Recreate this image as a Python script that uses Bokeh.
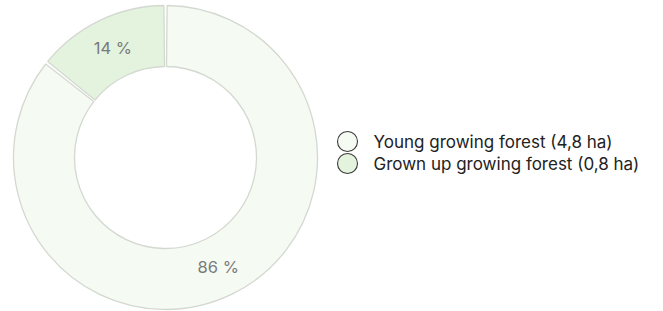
import math
from bokeh.plotting import figure
from bokeh.models import Range1d, ColumnDataSource
from bokeh.core.properties import value
from bokeh.embed import file_html
from bokeh.resources import INLINE

categories = ["Young growing forest", "Grown up growing forest"]
areas_ha = [4.8, 0.8]
colors = ["#f5faf2", "#e3f3de"]
area_labels = ["4,8 ha", "0,8 ha"]

W, H = 655, 311
p = figure(width=W, height=H, output_backend="svg", toolbar_location=None,
           x_range=Range1d(0, W), y_range=Range1d(0, H), min_border=0)
p.axis.visible = False
p.grid.visible = False
p.outline_line_color = None
p.background_fill_color = None
p.border_fill_color = None

cx, cy = 165, H - 157
r_out, r_in = 152, 91
r_mid = (r_out + r_in) / 2

total = sum(areas_ha)
fracs = [a / total for a in areas_ha]
pad = 1.3 / r_mid
starts, ends, lx, ly, pct = [], [], [], [], []
cur = math.pi / 2
for f in fracs:
    a_end = cur
    a_start = cur - 2 * math.pi * f
    starts.append(a_start + pad)
    ends.append(a_end - pad)
    mid = (a_start + a_end) / 2
    lx.append(cx + r_mid * math.cos(mid))
    ly.append(cy + r_mid * math.sin(mid))
    pct.append(f"{round(f * 100)} %")
    cur = a_start

src = ColumnDataSource(dict(start=starts, end=ends, color=colors, lx=lx, ly=ly, pct=pct))
p.annular_wedge(x=cx, y=cy, inner_radius=r_in, outer_radius=r_out,
                start_angle="start", end_angle="end", fill_color="color",
                line_color="#d3d9d0", line_width=1.3, source=src)
p.text(x="lx", y="ly", text="pct", source=src, text_align="center",
       text_baseline="middle", text_font=value("Inter"), text_font_size="16.5px",
       text_color="#7a7a7a")

# legend
leg_x, leg_y0, step = 347, H - 141, 22
lgx = [leg_x] * len(categories)
lgy = [leg_y0 - i * step for i in range(len(categories))]
ltxt = [f"{c} ({a})" for c, a in zip(categories, area_labels)]
lsrc = ColumnDataSource(dict(x=lgx, y=lgy, tx=[x + 26 for x in lgx], t=ltxt, color=colors))
p.scatter(x="x", y="y", size=20, marker="circle", fill_color="color",
          line_color="#3a3a3a", line_width=1.1, source=lsrc)
p.text(x="tx", y="y", text="t", source=lsrc, text_baseline="middle",
       text_font=value("Inter"), text_font_size="17px", text_color="#222222")

open("out.html", "w").write(file_html(p, INLINE))
